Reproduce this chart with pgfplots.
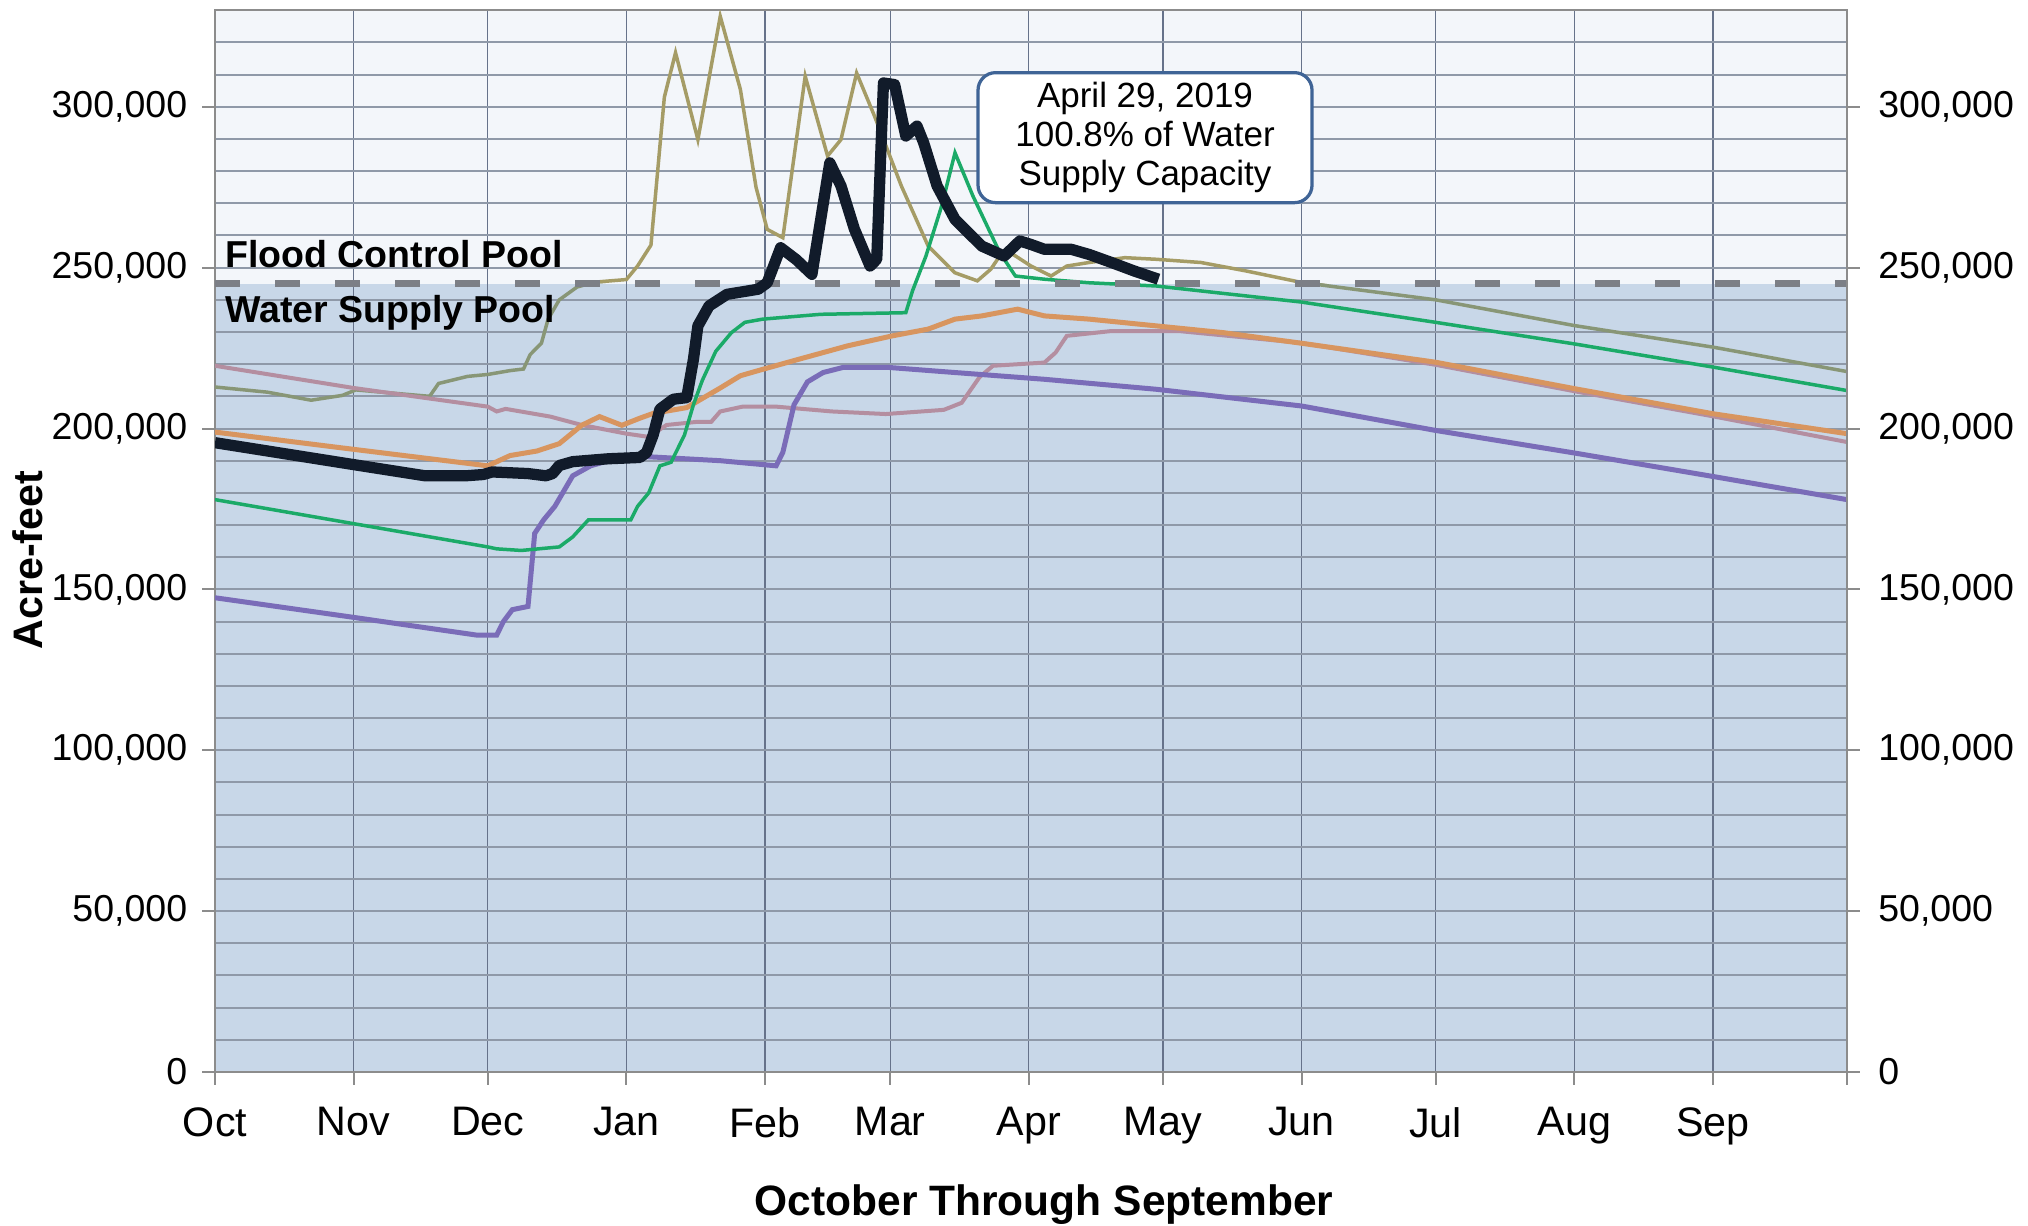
\documentclass[border=0pt]{standalone}
\usepackage{pgfplots}
\usepackage{pgfplotstable}
\pgfplotsset{compat=1.18}
\usepackage{fontspec}
\setmainfont{Liberation Sans}
\definecolor{cblack}{HTML}{111B2A}
\definecolor{corange}{HTML}{D8955F}
\definecolor{cmauve}{HTML}{B48EA0}
\definecolor{cgreen}{HTML}{1BAA68}
\definecolor{cpurple}{HTML}{7A6CB8}
\definecolor{colive}{HTML}{A59C66}
\definecolor{colivelow}{HTML}{889676}
\definecolor{bglow}{HTML}{C8D7E8}
\definecolor{bghigh}{HTML}{F3F6FA}
\definecolor{cdash}{HTML}{7C7F86}
\definecolor{cbox}{HTML}{3F6496}
\definecolor{gridh}{HTML}{8F99A8}
\definecolor{gridv}{HTML}{66728A}
\definecolor{axc}{HTML}{8C8C8C}
\pgfplotstableread{
x y
0 212900
11.7 211300
21.5 208800
28.5 210300
31.5 212000
48 210000
50 214000
56.5 216200
61 216800
66 218000
69 218500
70.5 223000
73 226500
74.5 234000
77 240000
81 244000
85 245500
92 246300
94.5 250500
97.5 257000
100.5 303000
103 316800
108 289800
113 328100
117.5 305400
121 275000
123.5 261900
127 259300
132 309500
137 284700
140 289800
143.5 310500
147.5 297100
153.5 275400
159.5 256700
165.5 248400
170.5 245900
173.5 249500
175.5 253600
178.5 254100
182.5 250500
187 247400
190.5 250500
195.5 251600
203.5 253100
210.5 252600
220.5 251600
230.5 249000
243 245400
273 240000
304 232000
335 225300
365 217700
}\olivetable
\pgfplotsset{ylabs/.style={yticklabel style={font=\fontsize{15}{18}\selectfont, /pgf/number format/fixed, /pgf/number format/1000 sep={,}, /pgf/number format/assume math mode=true}}}
\begin{document}
\begin{tikzpicture}
\begin{axis}[
  set layers,
  at={(0,0)}, anchor=south west,
  scale only axis, width=652.8pt, height=424.7pt,
  xmin=0, xmax=365, ymin=0, ymax=330000,
  xtick={0,31,61,92,123,151,182,212,243,273,304,335,365},
  xticklabels={Oct,Nov,Dec,Jan,Feb,Mar,Apr,May,Jun,Jul,Aug,Sep,{}},
  ytick={0,50000,100000,150000,200000,250000,300000},
  minor ytick={10000,20000,...,320000},
  scaled y ticks=false,
  ylabs,
  yticklabel style={xshift=-2.6pt},
  xticklabel style={font=\fontsize{16.5}{20}\selectfont, yshift=-5.7pt},
  xmajorgrids, ymajorgrids, yminorgrids,
  major grid style={draw=gridh, line width=0.8pt},
  minor grid style={draw=gridh, line width=0.8pt},
  x grid style={draw=gridv, line width=0.5pt},
  tick align=outside, major tick length=5pt, minor tick length=0pt,
  xtick pos=lower, ytick pos=left,
  tick style={draw=axc, line width=0.8pt},
  axis line style={draw=axc, line width=0.9pt},
  xlabel={October Through September},
  xlabel style={font=\bfseries\fontsize{17}{20}\selectfont, at={(axis description cs:0.508,-0.1253)}, anchor=center},
  ylabel={Acre-feet},
  ylabel style={font=\bfseries\fontsize{16.5}{20}\selectfont, at={(axis description cs:-0.1146,0.482)}, anchor=center},
]
% backgrounds
\addplot[draw=none, fill=bghigh, on layer=axis background] coordinates {(0,245000) (365,245000) (365,330000) (0,330000)} -- cycle;
\addplot[draw=none, fill=bglow, on layer=axis background] coordinates {(0,0) (365,0) (365,245000) (0,245000)} -- cycle;
% olive (drawn in its two apparent tints: above and below the pool line)
\begin{scope}
\clip (axis cs:0,245000) rectangle (axis cs:365,330000);
\addplot[colive, line width=1.4pt] table[x=x,y=y] {\olivetable};
\end{scope}
\begin{scope}
\clip (axis cs:0,0) rectangle (axis cs:365,245000);
\addplot[colivelow, line width=1.4pt] table[x=x,y=y] {\olivetable};
\end{scope}
% mauve
\addplot[cmauve, line width=1.6pt] coordinates {
(0,219500) (31,212600) (61,206800) (63,205300) (65,206100) (75,203700) (82,201100) (92,198400) (97,197400) (101,201100) (108,202100) (111,202100) (113,205300) (118,206800) (125.5,206800) (138,205300) (150,204500) (163,205800) (167,208000) (171,216000) (174,219500) (185.5,220500) (188,223600) (190.5,228800) (200.5,230300) (215.5,230300) (243,226600) (273,219800) (304,211600) (335,203800) (365,195800)};
% purple
\addplot[cpurple, line width=2pt] coordinates {
(0,147400) (30,141500) (58.5,135800) (63,135800) (64.5,140000) (66.5,143700) (70,144700) (71.5,167400) (73.5,171600) (76,175800) (80,185300) (84,188400) (92,191600) (113,190000) (125.5,188400) (127,192600) (129.5,207400) (132.5,214500) (136,217400) (140.5,219000) (150.5,219000) (165.5,217400) (185.5,215300) (210.5,212200) (243,207000) (273,199400) (304,192400) (335,185100) (365,177900)};
% orange
\addplot[corange, line width=2pt] coordinates {
(0,198900) (30,193700) (61,188400) (66,191600) (72,193000) (77,195300) (82,201000) (86,203700) (91,201000) (95,203200) (98,204700) (105.5,206500) (113,212600) (117.5,216400) (122.5,218400) (130.5,221500) (141.5,225700) (151.5,228800) (159.5,230900) (165.5,234000) (171.5,235000) (179.5,237100) (185.5,235000) (195.5,234000) (210.5,231900) (225.5,229800) (243,226500) (273,220600) (304,212400) (335,204600) (365,198400)};
% green
\addplot[cgreen, line width=1.4pt] coordinates {
(0,177900) (61,163200) (63,162600) (68.5,162100) (77,163200) (80,166300) (83.5,171600) (93,171600) (94.5,175800) (97,180000) (99.5,188400) (102,189500) (105,198000) (107,207400) (109,215000) (112,224000) (115.5,229800) (118.5,233000) (122.5,234000) (135.5,235500) (154.5,236000) (156,242800) (159,253600) (162.5,269100) (165.5,285700) (169.5,272300) (175.5,254700) (179,247400) (185.5,246400) (195.5,245300) (210.5,244300) (243,239300) (273,233000) (304,226300) (335,219100) (365,211800)};
% dashed pool boundary
\addplot[cdash, line width=2.7pt, dash pattern=on 10pt off 14pt] coordinates {(0,245000) (365,245000)};
% current year
\addplot[cblack, line width=4.5pt, line join=round] coordinates {
(0,195600) (15,192300) (30,189000) (47,185300) (56,185300) (60,185700) (62,186500) (70,186000) (74,185300) (75.5,186000) (77,188500) (80,189700) (88,190600) (95,191000) (96.5,192500) (98,198000) (99.5,206000) (102.5,209100) (105.5,209600) (107,221500) (108,231900) (110.5,238100) (114.5,241700) (121.5,243300) (123.5,245300) (126.5,256200) (130,252500) (133.5,247900) (137.5,282600) (140,275400) (143,262000) (146.5,250500) (148,252600) (149.5,307400) (152,306900) (154.5,290900) (157,294000) (158.5,288800) (161.5,275400) (165.5,265000) (171.5,256700) (176.5,253600) (180,258300) (182.5,257200) (185.5,255700) (191.5,255700) (195.5,254100) (200.5,251600) (205.5,249000) (211,246400)};
\node[anchor=base west, inner sep=0pt, font=\bfseries\fontsize{15}{18}\selectfont] at (axis cs:2.2,250100) {Flood Control Pool};
\node[anchor=base west, inner sep=0pt, font=\bfseries\fontsize{15}{18}\selectfont] at (axis cs:2.2,233000) {Water Supply Pool};
\node[draw=cbox, line width=1.3pt, rounded corners=7pt, fill=white, align=center, minimum width=133.6pt, minimum height=52pt, inner sep=2pt, font=\fontsize{14}{15.6}\selectfont] at (axis cs:208,290400) {April 29, 2019\\100.8\% of Water\\Supply Capacity};
\end{axis}
\begin{axis}[
  at={(0,0)}, anchor=south west,
  scale only axis, width=652.8pt, height=424.7pt,
  xmin=0, xmax=365, ymin=0, ymax=330000,
  axis x line=none, axis y line*=right,
  ytick={0,50000,100000,150000,200000,250000,300000},
  scaled y ticks=false,
  ylabs,
  yticklabel style={xshift=4pt},
  tick align=outside, major tick length=5pt,
  tick style={draw=axc, line width=0.8pt},
  axis line style={draw=axc, line width=0.9pt},
]
\addplot[draw=none] coordinates {(0,0)};
\end{axis}
\pgfresetboundingbox
\path[use as bounding box] (-86pt,-61.2pt) rectangle (725.2pt,428.8pt);
\end{tikzpicture}
\end{document}
